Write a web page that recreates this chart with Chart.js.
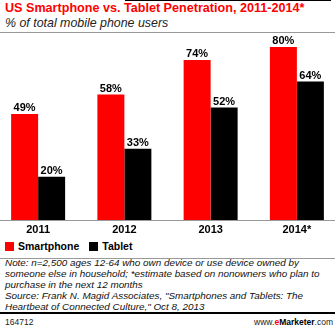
<!DOCTYPE html>
<html lang="en">
<head>
  <meta charset="UTF-8">
  <title>US Smartphone vs. Tablet Penetration, 2011-2014*</title>
  <script src="https://cdn.jsdelivr.net/npm/chart.js"></script>
  <style>
    * { margin: 0; padding: 0; box-sizing: border-box; }
    body {
      width: 335px;
      height: 332px;
      position: relative;
      overflow: hidden;
      background: #fff;
      font-family: 'Liberation Sans', Arial, sans-serif;
      color: #000;
    }
    .topline { position: absolute; left: 125px; top: 0; width: 206px; height: 1px; background: #000; }
    h1 {
      position: absolute; left: 5px; top: 1px;
      font-size: 12.6px; font-weight: bold; color: #f00; white-space: nowrap;
    }
    .sub {
      position: absolute; left: 5px; top: 16px;
      font-size: 12.4px; font-style: italic; white-space: nowrap; color: #222;
    }
    .rule { position: absolute; left: 0; width: 335px; height: 1px; background: #999; }
    #wrap { position: absolute; left: -5px; top: 30px; width: 345px; height: 208px; }
    .legend {
      position: absolute; left: 5px; top: 240px;
      font-size: 10.5px; font-weight: bold; white-space: nowrap; display: flex; align-items: center;
    }
    .legend i { display: inline-block; width: 9px; height: 9px; margin-right: 4px; }
    .legend span { margin-right: 10px; display: flex; align-items: center; }
    .note {
      position: absolute; left: 5px; top: 257px;
      font-size: 9.9px; font-style: italic; line-height: 11px; white-space: nowrap; color: #111;
    }
    .thick { position: absolute; left: 0; top: 312px; width: 335px; height: 2px; background: #000; }
    .foot { position: absolute; top: 317px; font-size: 8.5px; color: #222; }
    .foot b { color: #000; }
    .foot em { font-style: normal; font-weight: bold; color: #f00; }
  </style>
</head>
<body>

<div class="topline"></div>
<h1>US Smartphone vs. Tablet Penetration, 2011-2014*</h1>
<div class="sub">% of total mobile phone users</div>
<div class="rule" style="top:32px"></div>

<div id="wrap"><canvas id="chart"></canvas></div>

<div class="legend">
  <span><i style="background:#f00"></i>Smartphone</span>
  <span><i style="background:#000"></i>Tablet</span>
</div>
<div class="rule" style="top:258px"></div>

<div class="note">
  Note: n=2,500 ages 12-64 who own device or use device owned by<br>
  someone else in household; *estimate based on nonowners who plan to<br>
  purchase in the next 12 months<br>
  Source: Frank N. Magid Associates, "Smartphones and Tablets: The<br>
  Heartbeat of Connected Culture," Oct 8, 2013
</div>
<div class="thick"></div>
<div class="foot" style="left:5px">164712</div>
<div class="foot" style="right:2px">www.<em>e</em><b>Marketer</b>.com</div>

<script>
const years = ['2011', '2012', '2013', '2014*'];
const smartphone = [49, 58, 74, 80];
const tablet = [20, 33, 52, 64];

// percent labels above each bar
const valueLabels = {
  id: 'valueLabels',
  afterDatasetsDraw(chart) {
    const ctx = chart.ctx;
    ctx.save();
    ctx.font = "bold 11px 'Liberation Sans', Arial, sans-serif";
    ctx.fillStyle = '#000';
    ctx.textAlign = 'center';
    ctx.textBaseline = 'alphabetic';
    chart.data.datasets.forEach((ds, i) => {
      chart.getDatasetMeta(i).data.forEach((bar, j) => {
        ctx.fillText(ds.data[j] + '%', bar.x, bar.y - 3);
      });
    });
    ctx.restore();
  }
};

new Chart(document.getElementById('chart'), {
  type: 'bar',
  data: {
    labels: years,
    datasets: [
      { label: 'Smartphone', data: smartphone, backgroundColor: '#f00' },
      { label: 'Tablet', data: tablet, backgroundColor: '#000' }
    ]
  },
  options: {
    responsive: true,
    maintainAspectRatio: false,
    animation: false,
    layout: { padding: { top: 6 } },
    categoryPercentage: 0.626,
    barPercentage: 1,
    plugins: { legend: { display: false }, tooltip: { enabled: false } },
    scales: {
      y: { display: false, min: 0, max: 85.1 },
      x: {
        grid: { display: false, drawTicks: false },
        border: { display: true, color: '#999', width: 1 },
        ticks: {
          color: '#000',
          padding: 3,
          font: { family: "'Liberation Sans', Arial, sans-serif", size: 11, weight: 'bold' }
        },
        afterFit(scale) { scale.height = 18; }
      }
    }
  },
  plugins: [valueLabels]
});
</script>

</body>
</html>
